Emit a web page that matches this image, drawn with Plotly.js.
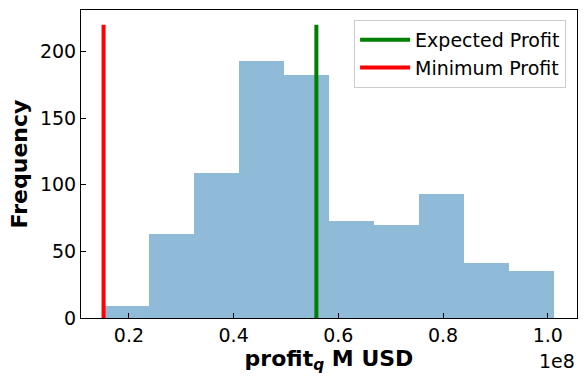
<!DOCTYPE html>
<html>
<head>
<meta charset="utf-8">
<script src="https://cdn.plot.ly/plotly-3.0.1.min.js"></script>
<style>html,body{margin:0;padding:0;background:#fff;}#chart{width:586px;height:385px;}</style>
</head>
<body>
<div id="chart"></div>
<script>
// Histogram bin edges (USD) and counts
const binEdges = [15150000, 23760000, 32370000, 40980000, 49590000, 58200000, 66810000, 75420000, 84030000, 92640000, 101280000];
const counts = [9, 63, 109, 193, 182, 73, 70, 93, 41, 35];
const expectedProfit = 55800000;
const minimumProfit = 15150000;
const lineTop = 220;
const xTickVals = [20000000, 40000000, 60000000, 80000000, 100000000];
const xTickText = ['0.2', '0.4', '0.6', '0.8', '1.0'];
const yTickVals = [0, 50, 100, 150, 200];

const centers = counts.map((c, i) => (binEdges[i] + binEdges[i + 1]) / 2);
const widths = counts.map((c, i) => binEdges[i + 1] - binEdges[i]);

const font = {family: 'DejaVu Sans', size: 19, color: '#000'};
const titleFont = {family: 'DejaVu Sans', size: 22, color: '#000'};

const traces = [
  {type: 'bar', x: centers, y: counts, width: widths, marker: {color: '#8fbbd9', line: {width: 0}}, showlegend: false, hoverinfo: 'x+y'},
  {type: 'scatter', mode: 'lines', x: [expectedProfit, expectedProfit], y: [0, lineTop], line: {color: 'green', width: 4}, name: 'Expected Profit'},
  {type: 'scatter', mode: 'lines', x: [minimumProfit, minimumProfit], y: [0, lineTop], line: {color: 'red', width: 4}, name: 'Minimum Profit'}
];

const xmin = binEdges[0], xmax = binEdges[binEdges.length - 1];
const pad = (xmax - xmin) * 0.05;

const layout = {
  width: 586, height: 385,
  margin: {l: 81, r: 9, t: 10, b: 67},
  paper_bgcolor: '#fff', plot_bgcolor: '#fff',
  font: font,
  bargap: 0,
  showlegend: true,
  legend: {x: 0.978, y: 0.968, xanchor: 'right', yanchor: 'top', bgcolor: 'rgba(255,255,255,0.8)', bordercolor: '#cccccc', borderwidth: 1, font: font, tracegroupgap: 0, itemwidth: 50},
  xaxis: {
    range: [xmin - pad, xmax + pad],
    tickvals: xTickVals, ticktext: xTickText,
    ticks: 'inside', ticklen: 5, tickwidth: 1, tickcolor: '#000',
    showgrid: false, zeroline: false,
    showline: true, mirror: true, linecolor: '#000', linewidth: 1,
    tickfont: font,
    title: {text: '<b>profit<sub><i>q</i></sub> M USD</b>', font: titleFont, standoff: 4}
  },
  yaxis: {
    range: [0, lineTop * 1.05],
    tickvals: yTickVals,
    ticks: 'inside', ticklen: 5, tickwidth: 1, tickcolor: '#000',
    showgrid: false, zeroline: false,
    showline: true, mirror: true, linecolor: '#000', linewidth: 1,
    tickfont: font,
    title: {text: '<b>Frequency</b>', font: titleFont, standoff: 6}
  },
  annotations: [
    {text: '1e8', xref: 'paper', yref: 'paper', x: 1, y: 0, xanchor: 'right', yanchor: 'top', yshift: -30, showarrow: false, font: font}
  ]
};

Plotly.newPlot('chart', traces, layout, {displayModeBar: false, staticPlot: true});
</script>
</body>
</html>
